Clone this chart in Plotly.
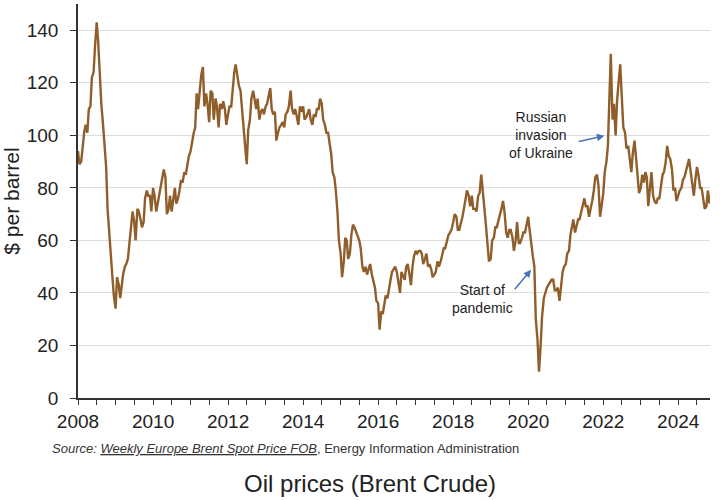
import pandas as pd
import plotly.graph_objects as go

# Semi-monthly Brent spot prices ($/barrel) (1st and 15th of each month)
p2008 = [94, 89, 90, 96, 101, 104, 101, 110, 111, 122, 124, 134, 143, 136, 121, 112, 104, 95, 88, 72, 61, 52, 46, 39]
p2009 = [34, 46, 43, 38, 43, 47, 50, 51, 53, 58, 66, 71, 67, 60, 72, 71, 68, 65, 67, 76, 79, 77, 77, 71]
p2010 = [80, 77, 71, 74, 78, 80, 84, 87, 84, 70, 72, 77, 71, 76, 80, 74, 76, 79, 83, 82, 86, 85, 89, 92]
p2011 = [94, 98, 101, 103, 116, 110, 118, 123, 126, 111, 116, 112, 105, 117, 116, 106, 114, 111, 103, 112, 110, 113, 110, 104]
p2012 = [108, 111, 111, 118, 124, 127, 123, 119, 117, 110, 100, 96, 89, 102, 106, 114, 117, 113, 110, 114, 106, 109, 110, 108]
p2013 = [111, 112, 116, 118, 110, 108, 109, 98, 101, 103, 104, 105, 103, 108, 109, 111, 117, 110, 108, 110, 107, 104, 111, 109]
p2014 = [111, 106, 107, 109, 110, 106, 104, 108, 107, 110, 110, 114, 112, 106, 104, 101, 101, 97, 93, 86, 84, 79, 71, 60]
p2015 = [55, 46, 52, 61, 60, 53, 55, 62, 66, 65, 63, 62, 60, 57, 50, 48, 50, 47, 49, 51, 47, 44, 42, 37]
p2016 = [36, 26, 33, 32, 36, 39, 38, 42, 45, 48, 49, 50, 48, 45, 40, 48, 46, 45, 50, 51, 47, 43, 50, 54]
p2017 = [56, 55, 56, 56, 55, 51, 53, 55, 50, 51, 49, 46, 47, 48, 52, 50, 52, 55, 57, 57, 60, 62, 63, 64]
p2018 = [67, 70, 69, 64, 64, 66, 69, 72, 75, 79, 77, 73, 77, 72, 72, 71, 77, 78, 85, 80, 72, 66, 60, 52]
p2019 = [53, 60, 61, 65, 65, 67, 69, 72, 75, 71, 63, 61, 64, 64, 61, 56, 60, 67, 59, 59, 61, 63, 63, 66]
p2020 = [69, 64, 57, 54, 50, 30, 22, 10, 20, 31, 38, 40, 42, 43, 44, 45, 45, 41, 41, 42, 37, 43, 48, 50]
p2021 = [51, 55, 56, 62, 65, 68, 63, 66, 68, 68, 71, 74, 76, 73, 73, 69, 72, 75, 79, 84, 85, 81, 69, 73]
p2022 = [78, 86, 90, 96, 118, 131, 106, 112, 100, 113, 121, 127, 114, 103, 101, 95, 96, 90, 86, 93, 98, 92, 84, 78]
p2023 = [80, 85, 82, 86, 84, 73, 80, 86, 77, 75, 74, 76, 76, 80, 85, 86, 90, 96, 92, 91, 87, 79, 80, 75]
p2024 = [77, 79, 80, 83, 84, 86, 89, 91, 86, 82, 77, 83, 88, 85, 80, 80, 76, 72, 73, 79, 74]

prices = (p2008 + p2009 + p2010 + p2011 + p2012 + p2013 + p2014 + p2015 + p2016
          + p2017 + p2018 + p2019 + p2020 + p2021 + p2022 + p2023 + p2024)
dates = pd.date_range("2008-01-01", periods=len(prices), freq="SMS")

y_ticks = [0, 20, 40, 60, 80, 100, 120, 140]

FONT = "Arial, Liberation Sans, sans-serif"
TXT = "#222222"

fig = go.Figure()
fig.add_trace(go.Scatter(x=dates, y=prices, mode="lines",
                         line=dict(color="#8f5e2a", width=2.4), hoverinfo="skip"))

fig.update_layout(
    width=720, height=501,
    margin=dict(l=78, r=10, t=4, b=103),
    paper_bgcolor="white", plot_bgcolor="white",
    showlegend=False,
    font=dict(family=FONT, color=TXT),
    title=dict(text="Oil prices (Brent Crude)", font=dict(size=24, color=TXT),
               xref="container", yref="container", x=0.514, y=1 - 484 / 501,
               xanchor="center", yanchor="middle"),
)

fig.update_xaxes(
    type="date", range=["2008-01-01", "2024-11-05"],
    showline=True, linecolor="#333333", linewidth=1.5,
    ticks="outside", ticklen=5, tickcolor="#333333", tickwidth=1.2,
    dtick="M24", tick0="2008-01-01", tickformat="%Y",
    tickfont=dict(size=19, color=TXT),
    minor=dict(dtick="M6", tick0="2008-01-01", ticks="outside", ticklen=5,
               tickcolor="#333333", tickwidth=1.2, showgrid=False),
    showgrid=False, zeroline=False,
)
fig.update_yaxes(
    range=[0, 150], tickvals=y_ticks,
    showline=True, linecolor="#333333", linewidth=1.5,
    ticks="outside", ticklen=6, tickcolor="#333333", tickwidth=1.2,
    tickfont=dict(size=19, color=TXT), ticklabelstandoff=8,
    showgrid=True, gridcolor="#dcdcdc", gridwidth=1.2, zeroline=False,
    title=dict(text="$ per barrel", font=dict(size=21, color=TXT), standoff=1),
)

ARROW = "#4a72b8"
# text labels
fig.add_annotation(x="2020-05-08", y=100, xref="x", yref="y",
                   text="Russian<br>invasion<br>of Ukraine", showarrow=False,
                   font=dict(size=14, color=TXT), align="center")
fig.add_annotation(x="2018-10-15", y=(398 - 299) / 2.625, xref="x", yref="y",
                   text="Start of<br>pandemic", showarrow=False,
                   font=dict(size=14, color=TXT), align="center")
# arrows
fig.add_annotation(x="2022-01-12", y=99.8, ax="2021-04-23", ay=97.5,
                   xref="x", yref="y", axref="x", ayref="y", text="",
                   showarrow=True, arrowhead=2, arrowsize=1, arrowwidth=1.5,
                   arrowcolor=ARROW, standoff=0, startstandoff=0)
fig.add_annotation(x="2020-01-30", y=48.8, ax="2019-08-10", ay=40.8,
                   xref="x", yref="y", axref="x", ayref="y", text="",
                   showarrow=True, arrowhead=2, arrowsize=1, arrowwidth=1.5,
                   arrowcolor=ARROW, standoff=0, startstandoff=0)

# source note
fig.add_annotation(
    x=(50 - 78) / 632, y=(398 - 448) / 394, xref="paper", yref="paper",
    xanchor="left", yanchor="middle", showarrow=False,
    text="<i>Source: <span style='text-decoration:underline'>Weekly Europe Brent Spot Price FOB</span></i>, Energy Information Administration",
    font=dict(size=13, color="#333333"),
)

fig.write_html("out.html")
